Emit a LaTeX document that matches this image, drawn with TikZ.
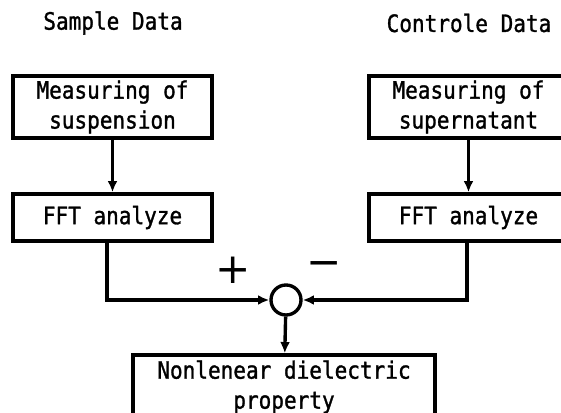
\documentclass[tikz,border=0pt]{standalone}
\usepackage{fontspec}
\setmainfont{DejaVu Sans Mono}[FakeStretch=0.88, FakeBold=1.2]
\newfontfamily\signfont{DejaVu Sans}
\usetikzlibrary{arrows.meta}
\begin{document}
\begin{tikzpicture}[x=0.025cm, y=-0.025cm,
    every node/.style={font=\fontsize{17}{21.3}\selectfont},
    box/.style={draw, line width=2.4pt, align=center, inner sep=0pt,
        minimum width=4.975cm, minimum height=1.55cm},
    fftbox/.style={box, minimum height=1.175cm},
    sign/.style={font=\signfont\fontsize{30}{30}\selectfont},
    arr/.style={line width=2.4pt, -{Latex[length=8pt, width=7pt]}}]
    \useasboundingbox (0,0) rectangle (561,413);
    \clip (0,0) rectangle (561,413);
    % Titles
    \node (sample) at (113,23) {Sample Data};
    \node (control) at (469,23) {Controle Data};
    % Sample branch
    \node[box] (measS) at (112.5,107) {Measuring of\\suspension};
    \node[fftbox] (fftS) at (112.5,217.5) {FFT analyze};
    % Control branch
    \node[box] (measC) at (468.5,107) {Measuring of\\supernatant};
    \node[fftbox] (fftC) at (468.5,217.5) {FFT analyze};
    % Summing point
    \node[draw, circle, line width=2.4pt, minimum size=0.75cm, inner sep=0pt] (sum) at (286,300) {};
    \node[sign] (plus) at (233,270) {+};
    \node[sign] (minus) at (324,269) {−};
    % Result
    \node[box, minimum width=7.55cm, minimum height=1.6cm] (result) at (284,387)
        {Nonlenear dielectric\\property};
    % Connectors
    \draw[arr] (measS) -- (fftS);
    \draw[arr] (measC) -- (fftC);
    \draw[arr] ([xshift=-0.14cm]fftS.south) |- (sum.west);
    \draw[arr] ([xshift=-0.04cm]fftC.south) |- (sum.east);
    \draw[arr] (sum) -- (result);
\end{tikzpicture}
\end{document}
